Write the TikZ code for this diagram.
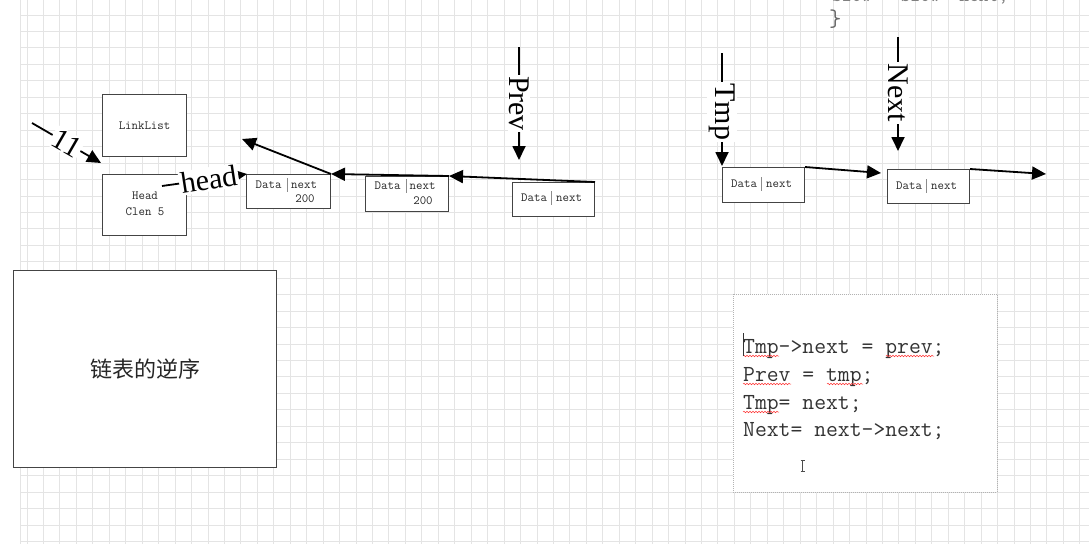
\documentclass[tikz,border=0pt]{standalone}
\usepackage{fontspec}
\newfontfamily\cjk{Noto Sans CJK SC}
\newfontfamily\lserif{Liberation Serif}
\usetikzlibrary{arrows.meta,decorations.pathmorphing}
\definecolor{gridc}{HTML}{E4E4E4}
\definecolor{boxc}{HTML}{444444}
\definecolor{codec}{HTML}{333333}
\begin{document}
\begin{tikzpicture}[x=1pt,y=-1pt,
  box/.style={draw=boxc,fill=white,line width=1pt,inner sep=0pt,anchor=north west},
  arr/.style={line width=1.8pt,-{Triangle[length=14pt,width=13pt]}},
  lab/.style={fill=white,inner sep=1.5pt,font=\lserif\fontsize{30}{30}\selectfont},
  small/.style={font=\ttfamily\fontsize{12.5}{14}\selectfont,text=black!85,inner sep=0pt},
  sepline/.style={draw=black!45,line width=0.6pt},
  codetxt/.style={font=\ttfamily\fontsize{23}{26}\selectfont,text=codec,inner sep=0pt,anchor=base west},
  wavy/.style={draw=red!80,line width=0.5pt,decorate,decoration={snake,amplitude=0.8pt,segment length=3pt}},
]
\useasboundingbox[fill=white] (0,0) rectangle (1089,544);
% grid
\foreach \i in {0,...,64} {\draw[gridc,line width=0.9pt] ({27+16.45*\i},0) -- ({27+16.45*\i},544);}
\foreach \j in {0,...,32} {\draw[gridc,line width=0.9pt] (20,{15+16.45*\j}) -- (1089,{15+16.45*\j});}
\draw[gridc,line width=1pt] (20,0) -- (20,544);

% top fragments
\node[codetxt,font=\ttfamily\fontsize{19}{22}\selectfont,text=black!50] (frag) at (832,1.2) {slow = slow->next;};
\node[codetxt,font=\ttfamily\fontsize{24}{26}\selectfont,text=black!60] (brace) at (829,26) {\}};

% boxes
\node[box,minimum width=84pt,minimum height=62pt] (ll) at (102,94) {};
\node[small] (lltxt) at (ll.center) {LinkList};
\node[box,minimum width=84pt,minimum height=61pt] (hd) at (102,174) {};
\node[small] (hdtxt1) at (145,196) {Head};
\node[small] (hdtxt2) at (145,212) {Clen 5};

\node[box,minimum width=84pt,minimum height=34pt] (n1) at (246,174) {};
\node[small,anchor=west] (n1a) at (255.5,185) {Data};
\draw[sepline] (287,178) -- (287,192);
\node[small,anchor=west] (n1b) at (291,185) {next};
\node[small] (n1c) at (305,199) {200};

\node[box,minimum width=83pt,minimum height=35pt] (n2) at (365,176) {};
\node[small,anchor=west] (n2a) at (374.5,186) {Data};
\draw[sepline] (406,179) -- (406,193);
\node[small,anchor=west] (n2b) at (409.5,186) {next};
\node[small] (n2c) at (423,201) {200};

\node[box,minimum width=82pt,minimum height=34pt] (n3) at (512,182) {};
\node[small,anchor=west] (n3a) at (521,198) {Data};
\draw[sepline] (551.5,191) -- (551.5,205);
\node[small,anchor=west] (n3b) at (556,198) {next};

\node[box,minimum width=82pt,minimum height=35pt] (t1) at (722,167) {};
\node[small,anchor=west] (t1a) at (731,184) {Data};
\draw[sepline] (761.5,177) -- (761.5,191);
\node[small,anchor=west] (t1b) at (766,184) {next};

\node[box,minimum width=82pt,minimum height=34pt] (x1) at (887,169) {};
\node[small,anchor=west] (x1a) at (896,186) {Data};
\draw[sepline] (926.5,179) -- (926.5,193);
\node[small,anchor=west] (x1b) at (931,186) {next};

% title box
\node[box,draw=boxc,line width=1.2pt,minimum width=263pt,minimum height=197pt] (big) at (13,270) {};
\node[font=\cjk\fontsize{22}{24}\selectfont,text=black!85] (bigtxt) at (big.center) {链表的逆序};

% code box
\node[box,draw=black!30,densely dotted,line width=0.7pt,minimum width=264pt,minimum height=198pt] (code) at (733,294) {};
\node[codetxt] (c1) at (743,353) {Tmp->next = prev;};
\node[codetxt] (c2) at (743,381) {Prev = tmp;};
\node[codetxt] (c3) at (743,409) {Tmp= next;};
\node[codetxt] (c4) at (743,436) {Next= next->next;};
\draw[wavy] (743,356) -- (779,356);
\draw[wavy] (886,356) -- (934,356);
\draw[wavy] (743,384) -- (791,384);
\draw[wavy] (827,384) -- (863,384);
\draw[wavy] (743,412) -- (779,412);
\draw[black!80,line width=0.6pt] (743,333) -- (743,356);
\draw[black!70,line width=0.7pt] (800.5,460) -- (804.5,460) (802.5,460) -- (802.5,471.5) (800.5,471.5) -- (804.5,471.5);

% coordinates for free ends
\coordinate (s11) at (32,123);
\coordinate (e11) at (101,163);
\coordinate (shd) at (162,186);
\coordinate (ehd) at (247,174);
\coordinate (e1) at (242,139);
\coordinate (sprev) at (519,47);
\coordinate (eprev) at (519,160);
\coordinate (stmp) at (722,53);
\coordinate (etmp) at (722,166);
\coordinate (snext) at (898,37);
\coordinate (enext) at (898,151);
\coordinate (et1) at (881,173);
\coordinate (ex1) at (1046,174);

% arrows
\draw[arr] (s11) -- node[lab,rotate=-30] (l11) {11} (e11);
\draw[arr] (shd) -- node[lab,pos=0.55,rotate=8.8] (lhd) {head} (ehd);
\draw[arr] (n1.north east) -- (e1);
\draw[arr] (n2.north east) -- (n1.north east);
\draw[arr] (n3.north east) -- (n2.north east);
\draw[arr] (sprev) -- node[lab,rotate=-90] (lprev) {Prev} (eprev);
\draw[arr] (stmp) -- node[lab,pos=0.52,rotate=-90] (ltmp) {Tmp} (etmp);
\draw[arr] (snext) -- node[lab,pos=0.49,rotate=-90] (lnext) {Next} (enext);
\draw[arr] (t1.north east) -- (et1);
\draw[arr] (x1.north east) -- (ex1);
\end{tikzpicture}
\end{document}
